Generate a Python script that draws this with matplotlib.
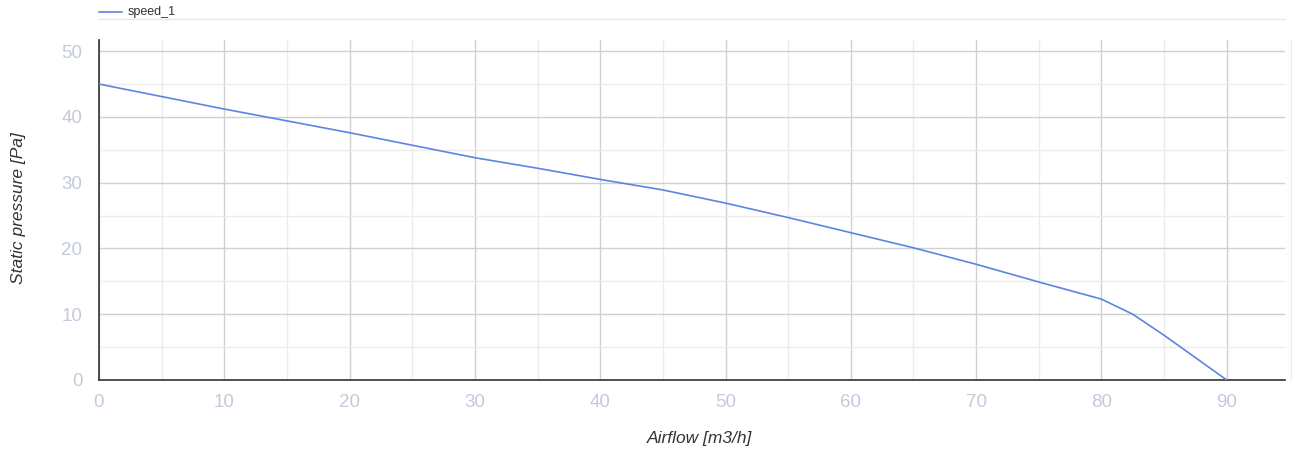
#! /usr/bin/env python3
import matplotlib
matplotlib.use("Agg")
import matplotlib.pyplot as plt
from matplotlib.ticker import MultipleLocator
from matplotlib.lines import Line2D

plt.rcParams['font.family'] = ['Liberation Sans', 'DejaVu Sans']

# fan curve
airflow = [0, 5, 10, 15, 20, 25, 30, 35, 40, 45, 50, 55, 60, 65, 70, 75, 80, 82.5, 85, 90]
pressure = [45.0, 43.1, 41.2, 39.4, 37.6, 35.7, 33.8, 32.2, 30.5, 28.9, 26.9,
            24.7, 22.4, 20.1, 17.6, 14.9, 12.3, 10.0, 6.8, 0.0]
series_name = 'speed_1'
x_title = 'Airflow [m3/h]'
y_title = 'Static pressure [Pa]'

W, H = 1292, 454
fig = plt.figure(figsize=(W / 100, H / 100), dpi=100)
ax = fig.add_axes([99 / W, 1 - 380 / H, (1285 - 99) / W, (380 - 40) / H])

line_col = '#5c85de'
tick_col = '#c3cadd'

ax.plot(airflow, pressure, color=line_col, lw=1.2, zorder=3)

ax.set_xlim(0, 94.65)
ax.set_ylim(0, 51.7)
ax.xaxis.set_major_locator(MultipleLocator(10))
ax.xaxis.set_minor_locator(MultipleLocator(5))
ax.yaxis.set_major_locator(MultipleLocator(10))
ax.yaxis.set_minor_locator(MultipleLocator(5))

ax.grid(which='major', color='#d0d0d0', lw=1.0)
ax.grid(which='minor', color='#ececec', lw=1.0)
ax.set_axisbelow(True)

for s in ('top', 'right'):
    ax.spines[s].set_visible(False)
for s in ('left', 'bottom'):
    ax.spines[s].set_color('#333333')
    ax.spines[s].set_linewidth(1.2)

ax.tick_params(which='both', length=0, colors=tick_col, labelsize=13.5)
ax.tick_params(axis='x', pad=10)
ax.tick_params(axis='y', pad=12)

ax.set_xlabel(x_title, fontsize=12.5, style='italic', color='#333333')
ax.set_ylabel(y_title, fontsize=12.5, style='italic', color='#333333')
ax.xaxis.set_label_coords((700 - 99) / (1285 - 99), -(431 - 380) / (380 - 40))
ax.yaxis.set_label_coords(-(99 - 26) / (1285 - 99), (380 - 208) / (380 - 40))

# legend drawn by hand, on top of the chart
fig.add_artist(Line2D([99 / W, 122 / W], [1 - 12 / H, 1 - 12 / H], color=line_col, lw=1.2))
fig.text(128 / W, 1 - 12 / H, series_name, fontsize=9, color='#333333', va='center', ha='left')
fig.add_artist(Line2D([99 / W, 1285 / W], [1 - 19 / H, 1 - 19 / H], color='#e8e8e8', lw=1.0))
# faint right border
fig.add_artist(Line2D([1291 / W, 1291 / W], [1 - 40 / H, 1 - 380 / H], color='#eeeeee', lw=1.0))

fig.savefig('out.png', dpi=100)
